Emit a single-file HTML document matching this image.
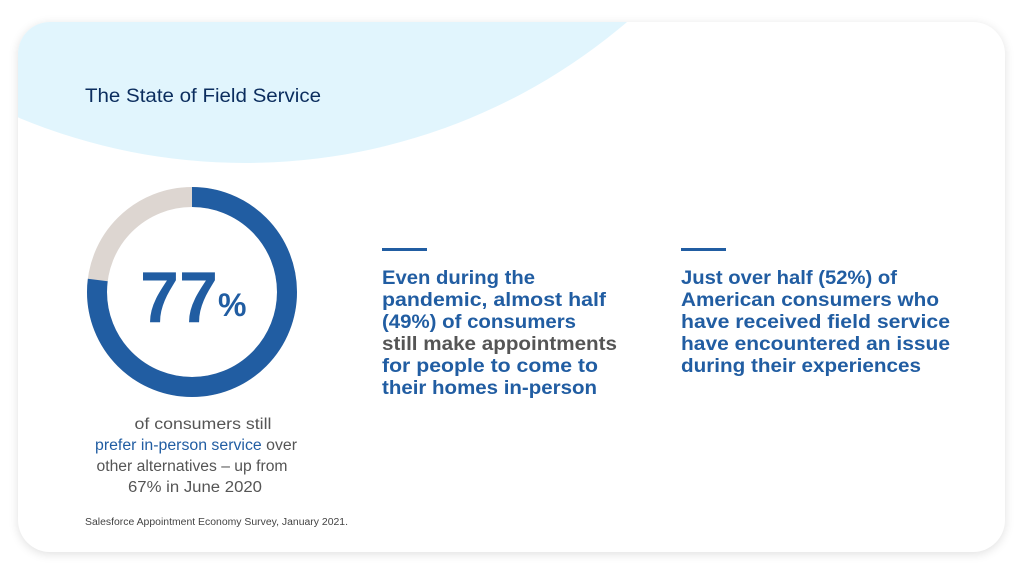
<!DOCTYPE html>
<html><head><meta charset="utf-8"><style>
html,body{margin:0;padding:0;background:#fff;}
svg{display:block;}
text{font-family:"Liberation Sans",sans-serif;}
</style></head><body>
<svg width="1024" height="576" viewBox="0 0 1024 576" xmlns="http://www.w3.org/2000/svg">
<defs>
<filter id="sh" x="-5%" y="-5%" width="110%" height="110%"><feGaussianBlur stdDeviation="5"/></filter>
<clipPath id="card"><rect x="18" y="22" width="987" height="530" rx="32"/></clipPath>
</defs>
<rect x="18" y="24" width="987" height="530" rx="32" fill="#000" opacity="0.12" filter="url(#sh)"/>
<rect x="18" y="22" width="987" height="530" rx="32" fill="#fff"/>
<g clip-path="url(#card)">
<circle cx="245" cy="-425" r="588" fill="#e1f5fd"/>
</g>
<text x="85" y="102" font-size="19" fill="#0b2d5e" textLength="236" lengthAdjust="spacingAndGlyphs">The State of Field Service</text>
<circle cx="192" cy="292" r="95" fill="none" stroke="#ddd6d1" stroke-width="20"/>
<circle cx="192" cy="292" r="95" fill="none" stroke="#215da2" stroke-width="20"
 stroke-dasharray="459.6 1000" transform="rotate(-90 192 292)"/>
<text x="140" y="322" font-size="72" font-weight="bold" fill="#215da2" textLength="78" lengthAdjust="spacingAndGlyphs">77</text>
<text x="218" y="316" font-size="32" font-weight="bold" fill="#215da2">%</text>
<g font-size="15.5" fill="#555" text-anchor="middle">
<text x="203" y="429" textLength="137" lengthAdjust="spacingAndGlyphs">of consumers still</text>
<text x="196" y="450" textLength="202" lengthAdjust="spacingAndGlyphs"><tspan fill="#215da2">prefer in-person service</tspan> over</text>
<text x="192" y="471" textLength="191" lengthAdjust="spacingAndGlyphs">other alternatives – up from</text>
<text x="195" y="492" textLength="134" lengthAdjust="spacingAndGlyphs">67% in June 2020</text>
</g>
<text x="85" y="525" font-size="10" fill="#444" textLength="263" lengthAdjust="spacingAndGlyphs">Salesforce Appointment Economy Survey, January 2021.</text>
<rect x="382" y="248" width="45" height="3" fill="#215da2"/>
<rect x="681" y="248" width="45" height="3" fill="#215da2"/>
<g font-size="19" font-weight="bold" fill="#215da2">
<text x="382" y="284" textLength="153" lengthAdjust="spacingAndGlyphs">Even during the</text>
<text x="382" y="306" textLength="224" lengthAdjust="spacingAndGlyphs">pandemic, almost half</text>
<text x="382" y="328" textLength="194" lengthAdjust="spacingAndGlyphs">(49%) of consumers</text>
<text x="382" y="350" fill="#555" textLength="235" lengthAdjust="spacingAndGlyphs">still make appointments</text>
<text x="382" y="372" textLength="216" lengthAdjust="spacingAndGlyphs">for people to come to</text>
<text x="382" y="394" textLength="215" lengthAdjust="spacingAndGlyphs">their homes in-person</text>
<text x="681" y="284" textLength="216" lengthAdjust="spacingAndGlyphs">Just over half (52%) of</text>
<text x="681" y="306" textLength="258" lengthAdjust="spacingAndGlyphs">American consumers who</text>
<text x="681" y="328" textLength="269" lengthAdjust="spacingAndGlyphs">have received field service</text>
<text x="681" y="350" textLength="269" lengthAdjust="spacingAndGlyphs">have encountered an issue</text>
<text x="681" y="372" textLength="240" lengthAdjust="spacingAndGlyphs">during their experiences</text>
</g>
</svg>
</body></html>
